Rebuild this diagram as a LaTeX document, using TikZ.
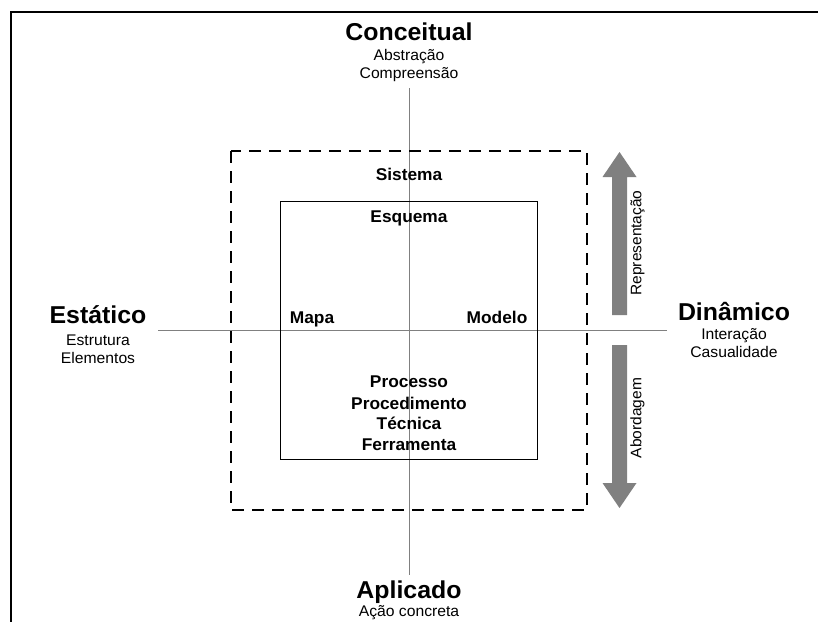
\documentclass[tikz,border=0pt]{standalone}
\usepackage{fontspec}
\setmainfont{Liberation Sans}[FakeStretch=1.02]
\begin{document}
\begin{tikzpicture}[x=1pt,y=-1pt,
  title/.style={font=\fontsize{24.4}{27}\selectfont\bfseries, anchor=base, inner sep=0pt},
  subtitle/.style={font=\fontsize{15.4}{18}\selectfont, anchor=base, inner sep=0pt},
  inlabel/.style={font=\fontsize{17}{20}\selectfont\bfseries, anchor=base, inner sep=0pt},
  sidelabel/.style={font=\fontsize{15.2}{18}\selectfont, rotate=90, inner sep=0pt},
  axis/.style={draw=black!50, line width=1pt},
  bigarrow/.style={fill=black!50, draw=none}]
\useasboundingbox (0,0) rectangle (818,621);
\fill[white] (0,0) rectangle (818,621);

% outer frame (only the top and left sides fall inside the page)
\coordinate (fbl) at (11,622);
\coordinate (ftl) at (11,12);
\coordinate (ftr) at (819,12);
\draw[line width=2.4pt, line join=miter] (fbl) -- (ftl) -- (ftr);

% axes
\coordinate (vtop) at (409,88);
\coordinate (vbot) at (409,575);
\coordinate (hleft) at (158,330.5);
\coordinate (hright) at (667,330.5);
\draw[axis] (vtop) -- (vbot);
\draw[axis] (hleft) -- (hright);

% system boundary (dashed) and inner box
\coordinate (sysA) at (231,151);
\coordinate (sysB) at (587,510);
\draw[line width=2.6pt, dash pattern=on 12pt off 8pt] (sysA) rectangle (sysB);
\coordinate (inA) at (280.5,201);
\coordinate (inB) at (537,459);
\draw[line width=1pt] (inA) rectangle (inB);

% pole labels
\node[title] (conc) at (409,40.5) {Conceitual};
\node[subtitle] (abst) at (409,60.5) {Abstração};
\node[subtitle] (comp) at (409,78.5) {Compreensão};

\node[title] (apl) at (409,598.5) {Aplicado};
\node[subtitle] (acao) at (409,616) {Ação concreta};

\node[title] (est) at (98,323.5) {Estático};
\node[subtitle] (estr) at (98,345.5) {Estrutura};
\node[subtitle] (elem) at (98,363.5) {Elementos};

\node[title] (din) at (734,320.5) {Dinâmico};
\node[subtitle] (inter) at (734,339) {Interação};
\node[subtitle] (casu) at (734,357) {Casualidade};

% quadrant labels
\node[inlabel] (sis) at (409,180.5) {Sistema};
\node[inlabel] (esq) at (409,222) {Esquema};
\node[inlabel] (mapa) at (312,323) {Mapa};
\node[inlabel] (mod) at (497,323) {Modelo};
\node[inlabel] (proc) at (409,387.5) {Processo};
\node[inlabel] (procd) at (409,409) {Procedimento};
\node[inlabel] (tec) at (409,429.5) {Técnica};
\node[inlabel] (ferr) at (409,450.5) {Ferramenta};

% direction arrows on the right
\coordinate (upbase) at (619.5,315);
\coordinate (uptip) at (619.5,152);
\fill[bigarrow] ([xshift=-7.5pt]upbase) -- ([xshift=-7.5pt]upbase |- 0,177) -- ([xshift=-17pt]uptip |- 0,177)
  -- (uptip) -- ([xshift=17pt]uptip |- 0,177) -- ([xshift=7.5pt]upbase |- 0,177) -- ([xshift=7.5pt]upbase) -- cycle;
\coordinate (dnbase) at (619.5,345);
\coordinate (dntip) at (619.5,508);
\fill[bigarrow] ([xshift=-7.5pt]dnbase) -- ([xshift=-7.5pt]dnbase |- 0,483) -- ([xshift=-17pt]dntip |- 0,483)
  -- (dntip) -- ([xshift=17pt]dntip |- 0,483) -- ([xshift=7.5pt]dnbase |- 0,483) -- ([xshift=7.5pt]dnbase) -- cycle;

\node[sidelabel] (rep) at (637.5,243) {Representação};
\node[sidelabel] (abo) at (637.5,418) {Abordagem};
\end{tikzpicture}
\end{document}
